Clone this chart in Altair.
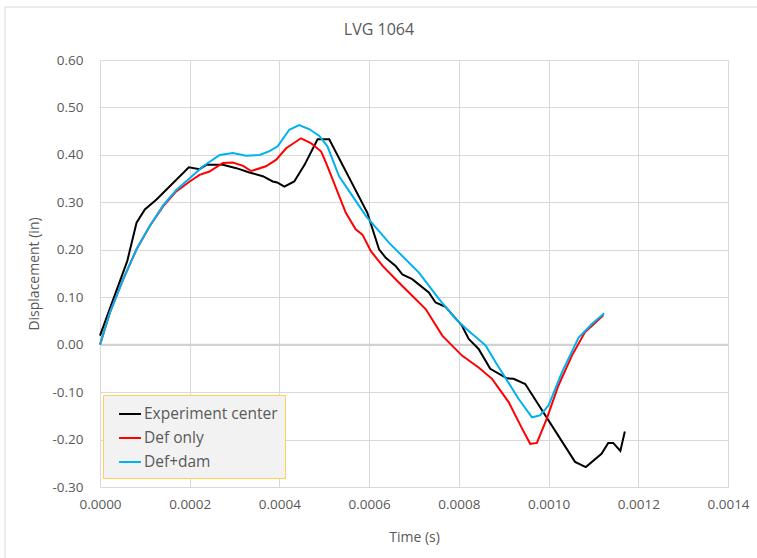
import altair as alt
import pandas as pd

# Experiment center (measured)
exp_t = [0.0, 0.0000607, 0.0000815, 0.0001, 0.000126, 0.000198, 0.000222, 0.000237,
         0.000274, 0.000304, 0.000333, 0.000363, 0.000385, 0.000395, 0.000411, 0.000433,
         0.000456, 0.000485, 0.000511, 0.000596, 0.000622, 0.000637, 0.000659, 0.000674,
         0.000696, 0.000733, 0.000748, 0.00077, 0.000807, 0.000822, 0.000844, 0.00087,
         0.000907, 0.000922, 0.000948, 0.001059, 0.001083, 0.001118, 0.001133, 0.001144,
         0.00116, 0.00117]
exp_y = [0.019, 0.176, 0.257, 0.285, 0.306, 0.374, 0.370, 0.379,
         0.379, 0.372, 0.363, 0.355, 0.344, 0.342, 0.333, 0.344,
         0.379, 0.433, 0.433, 0.278, 0.201, 0.183, 0.166, 0.148,
         0.138, 0.110, 0.089, 0.080, 0.040, 0.012, -0.009, -0.051,
         -0.071, -0.072, -0.083, -0.247, -0.258, -0.230, -0.207, -0.207,
         -0.224, -0.183]

# Def only (simulation)
def_t = [0.0, 0.0000222, 0.0000518, 0.0000815, 0.000111, 0.000141, 0.00017, 0.0002,
         0.000222, 0.000244, 0.000274, 0.000296, 0.000319, 0.000337, 0.00037, 0.000393,
         0.000415, 0.000448, 0.00047, 0.000493, 0.000504, 0.000548, 0.00057, 0.000585,
         0.000604, 0.00063, 0.000659, 0.000696, 0.000726, 0.000763, 0.000807, 0.000844,
         0.000874, 0.000911, 0.000941, 0.000959, 0.000974, 0.000996, 0.001022, 0.001052,
         0.001081, 0.001122]
def_y = [0.0, 0.068, 0.138, 0.201, 0.250, 0.292, 0.323, 0.344,
         0.358, 0.365, 0.383, 0.384, 0.377, 0.366, 0.376, 0.390,
         0.414, 0.435, 0.425, 0.407, 0.383, 0.278, 0.243, 0.232,
         0.197, 0.166, 0.138, 0.103, 0.075, 0.019, -0.023, -0.048,
         -0.072, -0.121, -0.177, -0.209, -0.207, -0.156, -0.086, -0.023,
         0.026, 0.062]

# Def+dam (simulation)
dam_t = [0.0, 0.0000222, 0.0000518, 0.0000815, 0.000111, 0.000141, 0.00017, 0.0002,
         0.00023, 0.000267, 0.000296, 0.000326, 0.000356, 0.000378, 0.000396, 0.000422,
         0.000444, 0.000467, 0.000489, 0.000507, 0.000533, 0.000563, 0.000593, 0.000644,
         0.000711, 0.000756, 0.000793, 0.000822, 0.00086, 0.000882, 0.000896, 0.000933,
         0.000963, 0.000981, 0.001, 0.00103, 0.001067, 0.001096, 0.001124]
dam_y = [0.0, 0.068, 0.138, 0.201, 0.250, 0.294, 0.326, 0.351,
         0.376, 0.400, 0.404, 0.398, 0.400, 0.408, 0.418, 0.453,
         0.463, 0.454, 0.440, 0.418, 0.355, 0.313, 0.271, 0.215,
         0.152, 0.096, 0.054, 0.029, -0.002, -0.037, -0.058, -0.114,
         -0.153, -0.149, -0.128, -0.058, 0.015, 0.043, 0.066]

series_names = ["Experiment center", "Def only", "Def+dam"]
series_colors = ["#000000", "#FF0000", "#00B0F0"]
chart_title = "LVG 1064"
x_ticks = [0, 0.0002, 0.0004, 0.0006, 0.0008, 0.001, 0.0012, 0.0014]
y_ticks = [-0.3, -0.2, -0.1, 0, 0.1, 0.2, 0.3, 0.4, 0.5, 0.6]

rows = []
for name, ts, ys in zip(series_names, [exp_t, def_t, dam_t], [exp_y, def_y, dam_y]):
    for i, (t, y) in enumerate(zip(ts, ys)):
        rows.append({"series": name, "t": t, "y": y, "order": i})
df = pd.DataFrame(rows)

FONT = "Open Sans"
TXT = "#595959"
W, H = 628, 427

x_scale = alt.Scale(domain=[0, 0.0014], nice=False)
y_scale = alt.Scale(domain=[-0.3, 0.6], nice=False)

one = pd.DataFrame({"label": [chart_title]})

# outer chart frame
frame = alt.Chart(one).mark_rect(
    fill=None, stroke="#d9d9d9", strokeWidth=1
).encode(x=alt.value(-95), x2=alt.value(660), y=alt.value(-53), y2=alt.value(510))

# chart title, centred on the whole figure
title = alt.Chart(one).mark_text(
    font=FONT, fontSize=16, color=TXT, align="center", baseline="middle"
).encode(text="label:N", x=alt.value(279), y=alt.value(-30))

# horizontal line at zero
zero = alt.Chart(pd.DataFrame({"y": [0.0]})).mark_rule(
    color="#d0d0d0", strokeWidth=2
).encode(y=alt.Y("y:Q", scale=y_scale))

# plain hyphen for negative tick labels
y_label_expr = "replace(format(datum.value, '.2f'), '\u2212', '-')"

lines = alt.Chart(df).mark_line(strokeWidth=2).encode(
    x=alt.X("t:Q", scale=x_scale, title="Time (s)",
            axis=alt.Axis(values=x_ticks, format=".4f", grid=True, domain=False,
                          ticks=False, labelFlush=False, labelPadding=10,
                          titlePadding=20)),
    y=alt.Y("y:Q", scale=y_scale, title="Displacement (in)",
            axis=alt.Axis(values=y_ticks, labelExpr=y_label_expr, grid=True,
                          domain=False, ticks=False, labelFlush=False,
                          labelPadding=17, titlePadding=10)),
    color=alt.Color("series:N",
                    scale=alt.Scale(domain=series_names, range=series_colors),
                    legend=alt.Legend(
                        title=None, orient="none", legendX=3, legendY=335,
                        symbolType="stroke", symbolStrokeWidth=2, symbolSize=480,
                        labelFontSize=15.5, labelColor=TXT, labelFont=FONT,
                        fillColor="#f2f2f2", strokeColor="#FFD055",
                        padding=7, rowPadding=3, labelLimit=300,
                        symbolOffset=8, labelOffset=2)),
    order="order:Q",
)

chart = alt.layer(frame, title, zero, lines).properties(
    width=W, height=H,
    background="white",
    autosize=alt.AutoSizeParams(type="none"),
    padding={"left": 100, "top": 60, "right": 29, "bottom": 71},
).configure_view(stroke=None).configure_axis(
    gridColor="#d9d9d9", gridWidth=1, labelFont=FONT, titleFont=FONT,
    labelFontSize=13.5, titleFontSize=14, labelColor=TXT, titleColor=TXT,
    titleFontWeight="normal"
)

chart.save("out.html", embed_options={"renderer": "svg", "actions": False})
